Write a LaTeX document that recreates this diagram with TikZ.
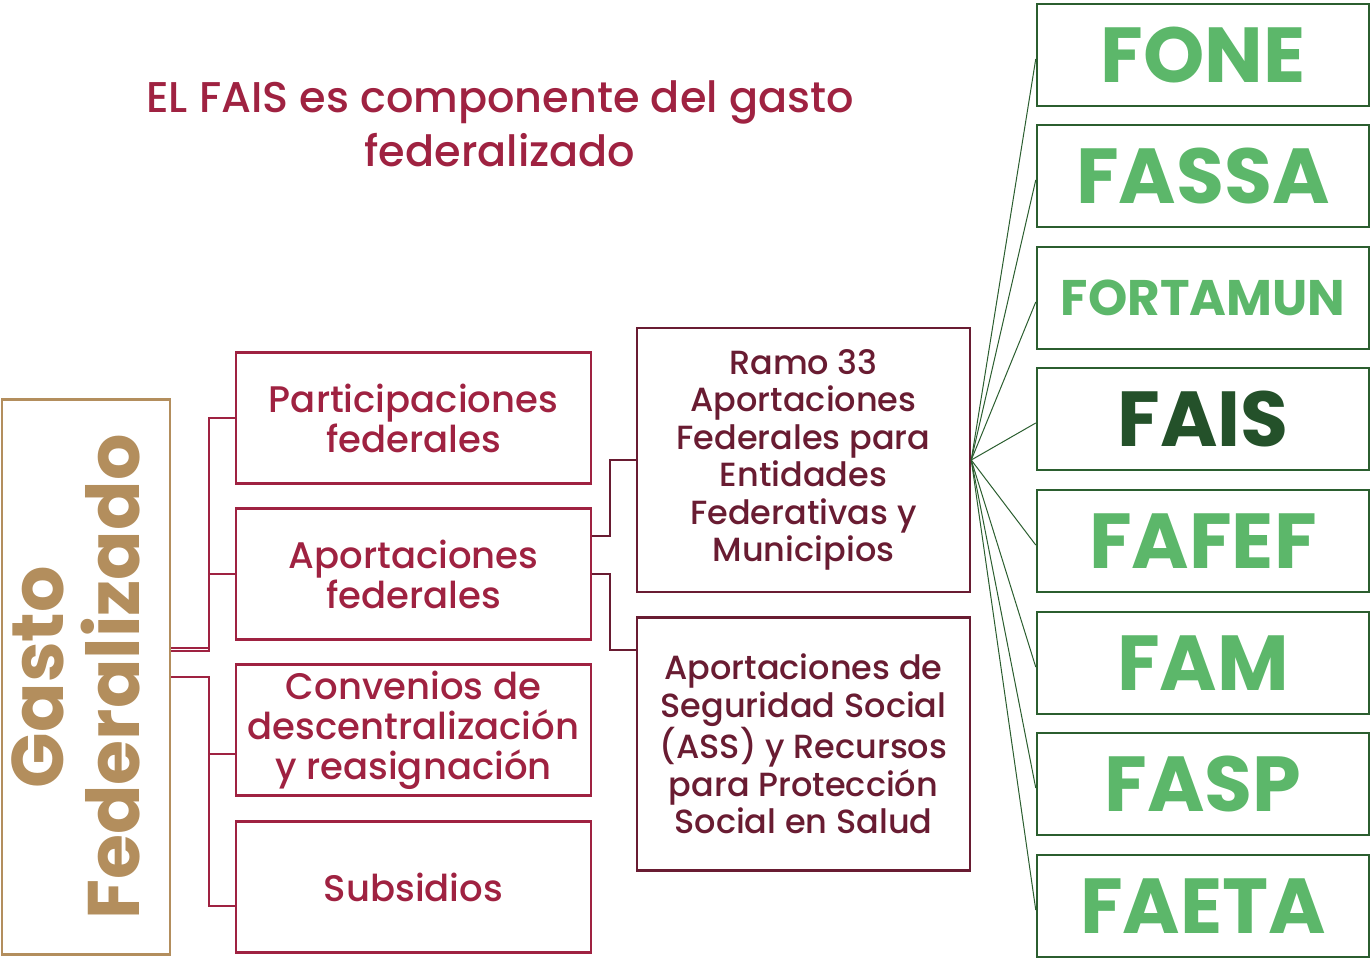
\documentclass[tikz,border=0pt]{standalone}
\usepackage{fontspec}
\setmainfont{Poppins}[UprightFont=* Medium, BoldFont=* Bold]
\usetikzlibrary{positioning}

\definecolor{guinda}{HTML}{9F2241}
\definecolor{guindaosc}{HTML}{691C32}
\definecolor{dorado}{HTML}{B38E5D}
\definecolor{verdeosc}{HTML}{2B5E2F}
\definecolor{verdeclaro}{HTML}{5CB76A}
\definecolor{verdefais}{HTML}{24512A}

\tikzset{
  gastobox/.style={draw=dorado, line width=2.5pt, minimum width=168pt, minimum height=555pt,
    text=dorado, font=\fontsize{73}{78}\selectfont\bfseries, align=center, inner sep=0pt},
  tipobox/.style={draw=guinda, line width=2.5pt, minimum width=355pt, minimum height=131pt,
    text=guinda, font=\fontsize{37}{40}\selectfont, align=center, inner sep=0pt},
  ramobox/.style={draw=guindaosc, line width=2.5pt, minimum width=333pt,
    text=guindaosc, font=\fontsize{33.5}{37.5}\selectfont, align=center, inner sep=0pt},
  fondobox/.style={draw=verdeosc, line width=2.5pt, minimum width=332pt, minimum height=102pt,
    text=verdeclaro, font=\fontsize{78}{78}\selectfont\bfseries, inner sep=0pt},
  rojolinea/.style={draw=guinda, line width=2pt},
  ramolinea/.style={draw=guindaosc, line width=2pt},
  verdelinea/.style={draw=verdeosc, line width=1pt}
}

\begin{document}
\begin{tikzpicture}[x=1pt, y=-1pt]
  \useasboundingbox (0,0) rectangle (1371,958);

  % Title
  \node[text=guinda, font=\fontsize{43}{54}\selectfont, align=center] (titulo) at (500,124)
    {EL FAIS es componente del gasto\\federalizado};

  % Gasto federalizado
  \node[gastobox] (gasto) at (86,677) {\rotatebox{90}{\begin{tabular}{c}Gasto\\[-6pt]Federalizado\end{tabular}}};

  % Types of federal spending
  \node[tipobox] (part) at (413.5,418) {Participaciones\\federales};
  \node[tipobox] (aport) at (413.5,574) {Aportaciones\\federales};
  \node[tipobox] (conv) at (413.5,730) {Convenios de\\descentralización\\y reasignación};
  \node[tipobox] (subs) at (413.5,887) {Subsidios};

  % Ramo 33 and ASS
  \node[ramobox, minimum height=264pt] (ramo) at (803.5,460)
    {Ramo 33\\Aportaciones\\Federales para\\Entidades\\Federativas y\\Municipios};
  \node[ramobox, minimum height=253pt] (ass) at (803.5,744)
    {Aportaciones de\\Seguridad Social\\(ASS) y Recursos\\para Protección\\Social en Salud};

  % Funds of Ramo 33
  \node[fondobox] (fone) at (1203,55) {FONE};
  \node[fondobox] (fassa) at (1203,176) {FASSA};
  \node[fondobox, font=\fontsize{50}{50}\selectfont\bfseries] (fortamun) at (1203,298) {FORTAMUN};
  \node[fondobox, text=verdefais] (fais) at (1203,419) {FAIS};
  \node[fondobox] (fafef) at (1203,541) {FAFEF};
  \node[fondobox] (fam) at (1203,663) {FAM};
  \node[fondobox] (fasp) at (1203,784) {FASP};
  \node[fondobox] (faeta) at (1203,906) {FAETA};

  % Connectors from Gasto
  \draw[rojolinea] ([yshift=29pt]gasto.east) -- ++(38,0) |- (part.west);
  \draw[rojolinea] ([yshift=26pt]gasto.east) -- ++(38,0) |- (aport.west);
  \draw[rojolinea] ([yshift=0pt]gasto.east) -- ++(38,0) |- ([yshift=-24pt]conv.west);
  \draw[rojolinea] ([yshift=0pt]gasto.east) -- ++(38,0) |- ([yshift=-19pt]subs.west);

  % Connectors from Aportaciones
  \draw[ramolinea] ([yshift=38pt]aport.east) -- ++(18,0) |- (ramo.west);
  \draw[ramolinea] (aport.east) -- ++(18,0) |- ([yshift=94pt]ass.west);

  % Fan to the funds
  \foreach \f in {fone,fassa,fortamun,fais,fafef,fam,fasp,faeta}
    \draw[verdelinea] (ramo.east) -- ([yshift=-4pt]\f.west);
\end{tikzpicture}
\end{document}
